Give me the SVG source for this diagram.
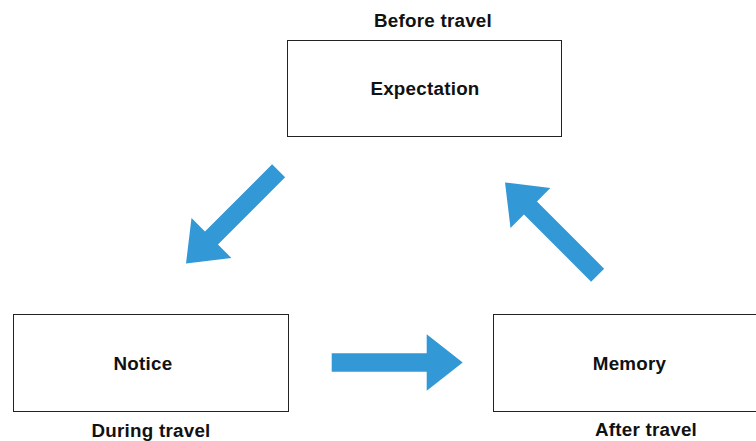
<svg xmlns="http://www.w3.org/2000/svg" xmlns:xlink="http://www.w3.org/1999/xlink" width="756" height="441" viewBox="0 0 756 441">
  <style>
    .box { fill: #ffffff; stroke: #222222; stroke-width: 1; }
    .label { font-family: "Liberation Sans", Arial, sans-serif; font-weight: bold; font-size: 18.8px; letter-spacing: 0.25px; fill: #111111; text-anchor: middle; }
    .arrow { fill: #3398d6; }
  </style>
  <defs>
    <!-- block arrow, tip at origin, pointing along +x -->
    <path id="blockArrow" d="M-131,-9.2 H-36 V-28.2 L0,0 L-36,28.2 V9.2 H-131 Z"/>
  </defs>
  <rect width="756" height="441" fill="#ffffff"/>

  <g id="connectors">
    <use xlink:href="#blockArrow" class="arrow" transform="translate(186,263.5) rotate(135)"/>
    <use xlink:href="#blockArrow" class="arrow" transform="translate(462.7,362.5)"/>
    <use xlink:href="#blockArrow" class="arrow" transform="translate(505,182.5) rotate(225)"/>
  </g>

  <g id="expectation">
    <rect class="box" x="287.5" y="40.5" width="274" height="96"/>
    <text class="label" x="425" y="95">Expectation</text>
    <text class="label" x="433" y="27">Before travel</text>
  </g>

  <g id="notice">
    <rect class="box" x="13.5" y="314.5" width="275" height="97"/>
    <text class="label" x="143" y="370">Notice</text>
    <text class="label" x="151" y="437">During travel</text>
  </g>

  <g id="memory">
    <rect class="box" x="493.5" y="314.5" width="275" height="97"/>
    <text class="label" x="629.5" y="370">Memory</text>
    <text class="label" x="646" y="436">After travel</text>
  </g>
</svg>
